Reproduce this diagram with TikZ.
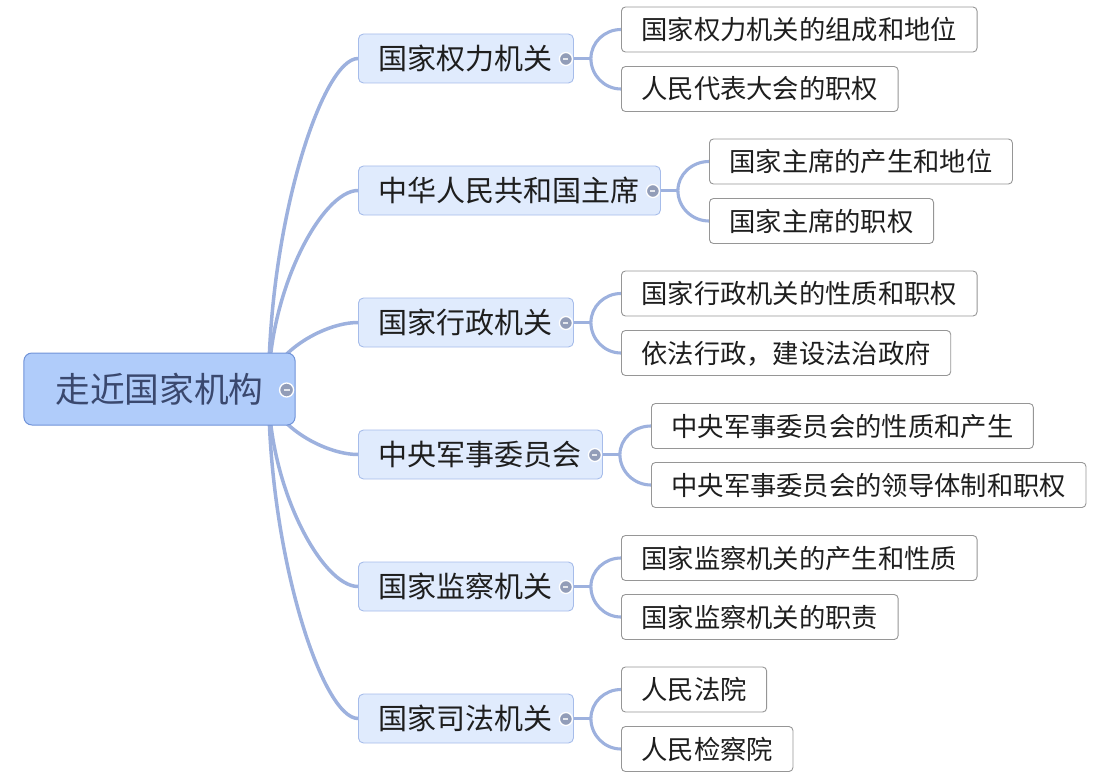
\documentclass[tikz,border=0pt]{standalone}
\usepackage{fontspec}
\setmainfont{Noto Sans CJK SC}
\usetikzlibrary{calc,backgrounds}
\definecolor{conncol}{RGB}{157,177,222}
\definecolor{rootfill}{RGB}{176,204,250}
\definecolor{rootborder}{RGB}{112,147,216}
\definecolor{roottext}{RGB}{58,72,110}
\definecolor{topfill}{RGB}{224,235,253}
\definecolor{topborder}{RGB}{166,188,234}
\definecolor{subborder}{RGB}{150,150,150}
\definecolor{textc}{RGB}{30,30,30}
\definecolor{iconfill}{RGB}{146,157,184}
\begin{document}
\begin{tikzpicture}[x=1pt,y=-1pt,
  rootbox/.style={draw=rootborder, fill=rootfill, rounded corners=8pt, line width=1pt,
    text=roottext, font=\fontsize{34.7}{40}\selectfont, inner xsep=31.5pt, inner ysep=0pt,
    minimum height=72pt, text height=28.8pt, text depth=2.4pt},
  topic/.style={draw=topborder, fill=topfill, rounded corners=5pt, line width=0.9pt,
    text=textc, font=\fontsize{29}{34}\selectfont, inner xsep=20.5pt, inner ysep=0pt,
    minimum height=49pt, text height=24.1pt, text depth=2pt, anchor=west},
  subtopic/.style={draw=subborder, fill=white, rounded corners=4pt, line width=0.9pt,
    text=textc, font=\fontsize{26.3}{30}\selectfont, inner xsep=20pt, inner ysep=0pt,
    minimum height=45pt, text height=21.8pt, text depth=1.8pt, anchor=west},
  conn/.style={draw=conncol, line width=3.5pt, line cap=round},
  subconn/.style={draw=conncol, line width=3.1pt},
  collapse/.style={circle, fill=iconfill, draw=white, line width=1.3pt, minimum size=14pt, inner sep=0pt,
    path picture={\draw[white!75!iconfill, line width=2.2pt]
      ($(path picture bounding box.west)+(4,0)$) -- ($(path picture bounding box.east)+(-4,0)$);}}
]
\useasboundingbox (0,0) rectangle (1113,778);

% root
\node[rootbox] (root) at (159.5,389) {走近国家机构};
\coordinate (o) at ($(root.east)+(-27,0)$);

% main topics
\node[topic] (t1) at (358,58.5) {国家权力机关};
\node[topic] (t2) at (358,190.5) {中华人民共和国主席};
\node[topic] (t3) at (358,322.5) {国家行政机关};
\node[topic] (t4) at (358,454.5) {中央军事委员会};
\node[topic] (t5) at (358,586.5) {国家监察机关};
\node[topic] (t6) at (358,718.5) {国家司法机关};

% subtopics
\node[subtopic] (s11) at (621,29.5) {国家权力机关的组成和地位};
\node[subtopic] (s12) at (621,89) {人民代表大会的职权};
\node[subtopic] (s21) at (709,161.5) {国家主席的产生和地位};
\node[subtopic] (s22) at (709,221) {国家主席的职权};
\node[subtopic] (s31) at (621,293.5) {国家行政机关的性质和职权};
\node[subtopic] (s32) at (621,353) {依法行政，建设法治政府};
\node[subtopic] (s41) at (651,426) {中央军事委员会的性质和产生};
\node[subtopic] (s42) at (651,485) {中央军事委员会的领导体制和职权};
\node[subtopic] (s51) at (621,558) {国家监察机关的产生和性质};
\node[subtopic] (s52) at (621,617) {国家监察机关的职责};
\node[subtopic] (s61) at (621,689.5) {人民法院};
\node[subtopic] (s62) at (621,749) {人民检察院};

\begin{scope}[on background layer]
  \foreach \t in {t1,t2,t3,t4,t5,t6}{
    \draw[conn] (o) .. controls ($(o)!0.5!(o|-\t.west)$) and ($(o|-\t.west)!0.6!(\t.west)$) .. (\t.west);
  }
  \foreach \t/\a/\b in {t1/s11/s12, t2/s21/s22, t3/s31/s32, t4/s41/s42, t5/s51/s52, t6/s61/s62}{
    \draw[subconn] (\t.east) -- ++(17,0) coordinate (b\t);
    \draw[subconn] (b\t) .. controls ($(b\t)!0.55!(b\t|-\a.west)$) and ($(b\t|-\a.west)!0.45!(\a.west)$) .. (\a.west);
    \draw[subconn] (b\t) .. controls ($(b\t)!0.55!(b\t|-\b.west)$) and ($(b\t|-\b.west)!0.45!(\b.west)$) .. (\b.west);
  }
\end{scope}

% collapse icons
\node[collapse] (c0) at ($(root.east)+(-9,1)$) {};
\foreach \t in {t1,t2,t3,t4,t5,t6}{
  \node[collapse, minimum size=13pt] (c\t) at ($(\t.east)+(-8,0.5)$) {};
}
\end{tikzpicture}
\end{document}
